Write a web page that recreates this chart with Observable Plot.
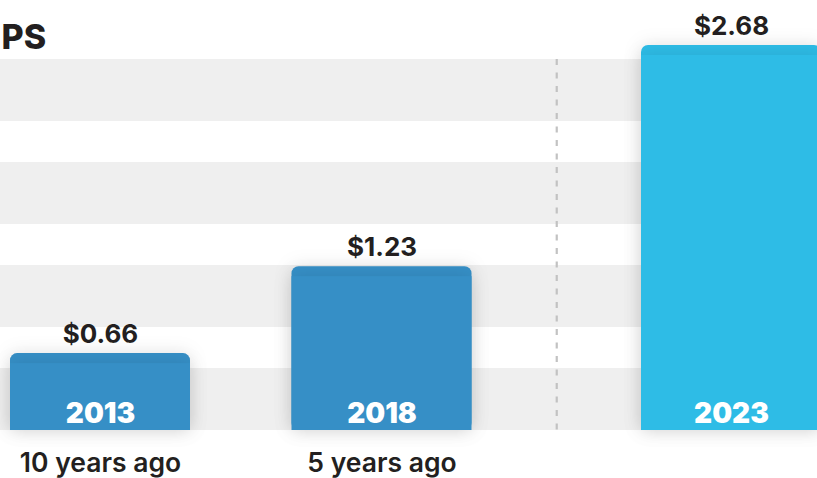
<!DOCTYPE html>
<html>
<head>
<meta charset="utf-8">
<script src="https://cdn.jsdelivr.net/npm/d3@7"></script>
<script src="https://cdn.jsdelivr.net/npm/@observablehq/plot@0.6"></script>
<style>
  html, body { margin: 0; padding: 0; background: #fff; overflow: hidden; }
</style>
</head>
<body>
<div id="chart"></div>
<script>
const title = "PS";
const years = [2013, 2018, 2023];
const eps = [0.66, 1.23, 2.68];
const yearLabels = ["2013", "2018", "2023"];
const valueLabels = ["$0.66", "$1.23", "$2.68"];
const periodLabels = ["10 years ago", "5 years ago", ""];
const barColors = ["#368fc6", "#368fc6", "#2ebce6"];

const data = years.map((year, i) => ({
  year, eps: eps[i], yearLabel: yearLabels[i], value: valueLabels[i],
  period: periodLabels[i], color: barColors[i]
}));

const yBase = 0.156;
const font = "Inter, 'Noto Sans', sans-serif";

const chart = Plot.plot({
  width: 817,
  height: 478,
  margin: 0,
  style: "background-color:#fff;background-image:repeating-linear-gradient(to bottom,#efefef 0px,#efefef 62px,#ffffff 62px,#ffffff 103px);background-position:0 59px;background-size:100% 371px;background-repeat:no-repeat;font-family:" + font + ";",
  x: {type: "linear", domain: [2013, 2018, 2023], range: [100, 381.5, 731], axis: null},
  y: {type: "linear", domain: [yBase, 2.68], range: [430, 45], axis: null},
  color: {type: "identity"},
  marks: [
    Plot.ruleX([2020.5], {
      insetTop: 59, insetBottom: 48,
      stroke: "#c2c2c2", strokeWidth: 2.2, strokeDasharray: "6,7.5"
    }),
    Plot.rect(data, {
      x1: "year", x2: "year", y1: yBase, y2: "eps",
      insetLeft: -90, insetRight: -90, rx: 7, fill: "color"
    }),
    Plot.rect(data, {
      x1: "year", x2: "year", y1: yBase, y2: "eps",
      insetLeft: -90, insetRight: -90, insetTop: 10, fill: "color"
    }),
    Plot.text(data, {
      x: "year", y: "eps", text: "value", dy: -11, lineAnchor: "bottom",
      fontSize: 26, fontWeight: 700, fill: "#231f20", fontFamily: font
    }),
    Plot.text(data, {
      x: "year", y: yBase, text: "yearLabel", dy: -8, lineAnchor: "bottom",
      fontSize: 28, fontWeight: 900, fill: "#ffffff", fontFamily: font
    }),
    Plot.text(data, {
      x: "year", y: yBase, text: "period", dy: 41, lineAnchor: "bottom",
      fontSize: 26.5, fontWeight: 600, fill: "#231f20", fontFamily: font
    }),
    Plot.text([title], {
      frameAnchor: "top-left", text: d => d, dx: 1, dy: 48,
      textAnchor: "start", lineAnchor: "bottom",
      fontSize: 34, fontWeight: 800, fill: "#231f20", fontFamily: font
    })
  ]
});

d3.select(chart).selectAll("g[aria-label='rect']")
  .style("filter", "drop-shadow(0px 0px 9px rgba(0,0,0,0.10))");

document.getElementById("chart").appendChild(chart);
</script>
</body>
</html>
